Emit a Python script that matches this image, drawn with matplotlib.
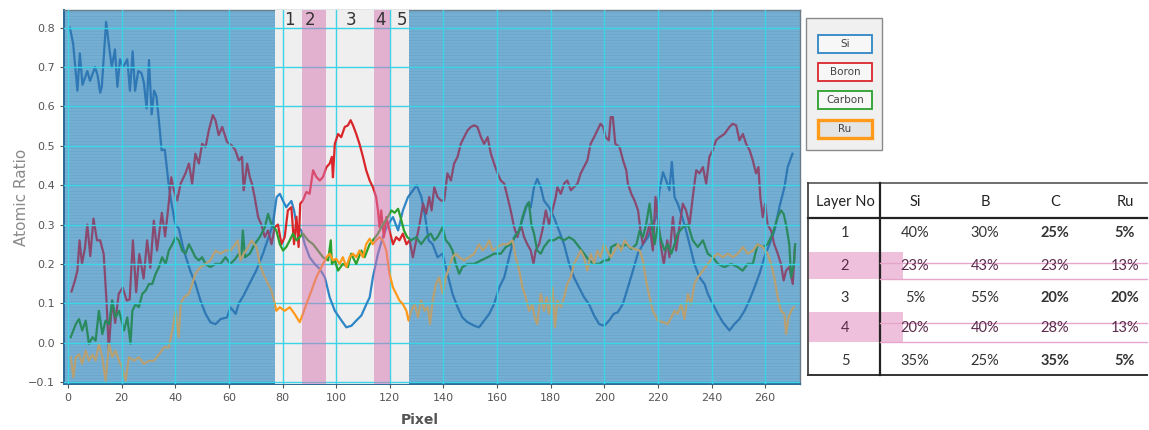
import numpy as np
import matplotlib
matplotlib.use("Agg")
from matplotlib import pyplot as plt
from matplotlib.patches import Rectangle
from matplotlib.lines import Line2D

# ---- data ----
si_x = [0.7, 1.9, 3.5, 4.4, 5.4, 7.2, 8.2, 10.1, 11, 12, 12.6, 14.2, 15, 16.3, 17.5, 18.4, 19.4, 20.6, 22.1, 23.1,
        24.1, 25, 26.2, 27.4, 28.3, 29.3, 30.2, 31.2, 32.1, 33, 34, 34.9, 36.1, 37.4, 38.2, 40, 41.3, 43.2, 45.7, 47.5,
        49.4, 51.3, 53.1, 55, 56.9, 59.3, 60.6, 62.5, 63.7, 65.5, 67.7, 70.2, 72.7, 76.4, 77.8, 79, 80.2, 81.4, 83.3,
        84.3, 85.2, 87, 88.3, 90.1, 92, 93.9, 95.8, 97.6, 99.5, 102, 103.8, 105.7, 107.5, 109.4, 111.3, 112.5, 113.7,
        115.6, 117.4, 119.3, 121.2, 123.1, 124.9, 126.8, 128.7, 130, 131.8, 133.2, 134.5, 136, 137.8, 139.7, 141.5,
        143.4, 145.3, 147.1, 149, 151.5, 153.3, 155.2, 157.1, 158.9, 160.8, 162.7, 164.5, 166.4, 168.3, 170.1, 171.3,
        172.6, 173.8, 175, 176.3, 177.5, 179.4, 181.2, 183.1, 185, 186.9, 188.7, 190.6, 192.5, 194.3, 196.2, 198.1,
        200, 201.8, 203.5, 205, 206.9, 208.8, 210.7, 212.5, 214.4, 216.3, 218.1, 219.4, 220.6, 221.9, 223.1, 224.3,
        225.2, 226.2, 227.4, 228.7, 229.9, 231.8, 233.6, 235.5, 237.4, 238.6, 240.5, 242.4, 244.2, 246.7, 248.5,
        250.4, 252.3, 254.1, 256, 257.9, 259.7, 261.6, 263.5, 265.3, 267.2, 268.4, 270.2]
si_y = [0.80, 0.76, 0.64, 0.735, 0.655, 0.69, 0.665, 0.70, 0.68, 0.635, 0.65, 0.815, 0.77, 0.70, 0.745, 0.65, 0.72,
        0.70, 0.72, 0.64, 0.74, 0.64, 0.69, 0.685, 0.66, 0.595, 0.718, 0.58, 0.64, 0.625, 0.557, 0.489, 0.49, 0.41,
        0.37, 0.30, 0.29, 0.234, 0.18, 0.15, 0.107, 0.073, 0.052, 0.047, 0.06, 0.064, 0.09, 0.073, 0.10, 0.12, 0.15,
        0.183, 0.226, 0.30, 0.37, 0.378, 0.36, 0.344, 0.36, 0.336, 0.30, 0.285, 0.25, 0.217, 0.20, 0.187, 0.166,
        0.115, 0.081, 0.056, 0.039, 0.043, 0.056, 0.069, 0.098, 0.115, 0.166, 0.226, 0.268, 0.30, 0.319, 0.285,
        0.336, 0.37, 0.387, 0.40, 0.37, 0.32, 0.26, 0.25, 0.217, 0.226, 0.175, 0.124, 0.09, 0.064, 0.052, 0.043,
        0.039, 0.056, 0.073, 0.098, 0.14, 0.166, 0.217, 0.268, 0.285, 0.327, 0.353, 0.344, 0.395, 0.416, 0.395,
        0.361, 0.344, 0.319, 0.285, 0.25, 0.20, 0.166, 0.14, 0.115, 0.098, 0.069, 0.047, 0.043, 0.056, 0.073, 0.077,
        0.098, 0.14, 0.183, 0.226, 0.25, 0.268, 0.30, 0.319, 0.387, 0.433, 0.412, 0.387, 0.459, 0.37, 0.353, 0.327,
        0.30, 0.25, 0.20, 0.166, 0.149, 0.124, 0.098, 0.073, 0.052, 0.031, 0.047, 0.06, 0.081, 0.107, 0.14, 0.175,
        0.217, 0.25, 0.285, 0.344, 0.395, 0.446, 0.48]

boron_x = [1.3, 2.6, 3.5, 4.3, 5.2, 6.3, 7.2, 8.3, 9.5, 10.8, 12, 13.3, 14.4, 15.2, 16.4, 17.6, 18.9, 20.4, 21.9, 23,
           24.2, 25.4, 26.6, 28.2, 29.5, 30.7, 32, 33.2, 35, 36.2, 37.5, 38.5, 39.5, 40.7, 42, 43.8, 45.1, 46.3, 47.5,
           48.8, 50, 51.3, 52.5, 54, 55, 56.2, 57.5, 59.3, 61.2, 62.4, 63.7, 64.9, 65.5, 66.8, 67.8, 68.6, 69.6, 70.9,
           72.1, 73.4, 74.6, 75.9, 77.1, 78.3, 79.6, 80.8, 82, 83.3, 84.3, 85.2, 86, 86.6, 87.6, 88.9, 90.1, 91.4,
           92.6, 93.9, 95.1, 96.4, 97.6, 98.4, 98.8, 99.5, 100.7, 101.9, 103.2, 104.4, 105.4, 106.3, 107.5, 108.7,
           110, 111.2, 112.5, 113.7, 114.9, 115.6, 116.2, 116.8, 117.8, 118.7, 119.9, 121.2, 122.4, 123.6, 124.9,
           126.2, 127.4, 128.6, 129.9, 131.1, 132.4, 133.6, 134.7, 135.6, 136.6, 137.8, 139.1, 140.3, 141.5, 142.8,
           144, 145.3, 146.5, 147.7, 149, 150.2, 151.5, 152.7, 154, 155.2, 156.5, 157.7, 158.9, 160.2, 161.4, 162.7,
           163.9, 165.1, 166.4, 167.6, 168.9, 170.1, 171.3, 172.6, 173.6, 174.4, 175.7, 176.9, 178.2, 179.4, 180.7,
           181.9, 182.5, 183.8, 185, 186.2, 187.5, 188.7, 190, 191.2, 192.4, 193.7, 194.9, 196.2, 197.4, 198.6,
           199.6, 200.5, 201.7, 202.4, 203.2, 204.1, 205.7, 207, 208.2, 208.8, 210.1, 211.3, 212.6, 213.5, 214.4,
           215.6, 216.9, 218.1, 219.1, 220, 221, 222.2, 223.5, 224.3, 225.6, 226.8, 228, 229.3, 230.5, 231.8, 233,
           234.3, 235.5, 236.8, 238, 239.2, 240.5, 241.7, 243, 244.8, 246.7, 247.9, 249.2, 250.4, 251.7, 252.9,
           254.2, 255.4, 256.6, 257.5, 258.2, 259.1, 260, 260.9, 262.2, 263.4, 264.7, 265.9, 266.9, 267.8, 269,
           270.3, 271.1]
boron_y = [0.13, 0.158, 0.183, 0.26, 0.20, 0.24, 0.30, 0.22, 0.315, 0.26, 0.26, 0.225, 0.10, -0.02, 0.107, 0.05,
           0.124, 0.14, 0.107, 0.11, 0.26, 0.128, 0.225, 0.163, 0.26, 0.19, 0.31, 0.234, 0.33, 0.27, 0.35, 0.42,
           0.387, 0.361, 0.404, 0.43, 0.455, 0.404, 0.48, 0.455, 0.505, 0.497, 0.539, 0.578, 0.565, 0.527, 0.548,
           0.51, 0.50, 0.489, 0.463, 0.472, 0.387, 0.455, 0.42, 0.404, 0.37, 0.319, 0.30, 0.268, 0.285, 0.25, 0.293,
           0.30, 0.25, 0.268, 0.336, 0.344, 0.25, 0.32, 0.243, 0.353, 0.361, 0.383, 0.378, 0.438, 0.421, 0.412,
           0.421, 0.446, 0.455, 0.472, 0.42, 0.505, 0.53, 0.522, 0.548, 0.552, 0.565, 0.552, 0.53, 0.505, 0.472,
           0.438, 0.412, 0.395, 0.37, 0.336, 0.293, 0.336, 0.268, 0.319, 0.285, 0.25, 0.268, 0.26, 0.277, 0.25,
           0.26, 0.217, 0.26, 0.30, 0.353, 0.327, 0.37, 0.336, 0.395, 0.37, 0.361, 0.361, 0.43, 0.412, 0.455, 0.472,
           0.505, 0.522, 0.539, 0.548, 0.552, 0.548, 0.522, 0.505, 0.522, 0.48, 0.455, 0.43, 0.412, 0.404, 0.37,
           0.336, 0.293, 0.268, 0.30, 0.268, 0.25, 0.234, 0.20, 0.234, 0.25, 0.285, 0.336, 0.30, 0.336, 0.37, 0.395,
           0.378, 0.404, 0.412, 0.387, 0.395, 0.404, 0.43, 0.446, 0.463, 0.505, 0.522, 0.539, 0.556, 0.548, 0.522,
           0.514, 0.573, 0.573, 0.505, 0.497, 0.463, 0.438, 0.404, 0.378, 0.361, 0.336, 0.285, 0.25, 0.268, 0.30,
           0.234, 0.37, 0.319, 0.25, 0.20, 0.26, 0.217, 0.319, 0.234, 0.293, 0.353, 0.336, 0.30, 0.37, 0.438, 0.43,
           0.446, 0.404, 0.472, 0.489, 0.514, 0.522, 0.53, 0.548, 0.556, 0.552, 0.514, 0.53, 0.505, 0.489, 0.463,
           0.43, 0.446, 0.37, 0.319, 0.353, 0.30, 0.285, 0.25, 0.226, 0.20, 0.158, 0.183, 0.192, 0.149, 0.243]

carbon_x = [1, 2.9, 4.1, 5.3, 6.6, 7.8, 9.1, 10.3, 11.5, 12.8, 14, 15.3, 16.5, 17.7, 19, 20.9, 22.1, 23.3, 24, 25.2,
            26.4, 27.7, 28.9, 30.2, 31.4, 32.7, 33.9, 35.1, 36.4, 37.6, 38.9, 40.1, 41.3, 42.6, 43.8, 45.1, 46.3,
            47.5, 48.8, 50, 51.3, 53.1, 55, 56.9, 58.7, 60.6, 62.4, 63.7, 64.6, 65.2, 66, 67.8, 69.6, 71.5, 73.4,
            74.6, 75.9, 77.7, 79, 80.2, 81.4, 82.7, 83.9, 85.2, 86.4, 87.6, 89.5, 91.4, 93.2, 95.1, 97, 98, 98.4,
            99.5, 100.7, 102.5, 104.4, 105.6, 107.5, 109.4, 110.6, 112.5, 113.7, 115.6, 117.4, 119.3, 120.6, 121.8,
            123.1, 124, 125.3, 126.5, 128, 129.9, 131.7, 133.6, 135.3, 136.6, 137.8, 139.7, 140.9, 142.2, 143.4,
            144.6, 145.9, 147.1, 149, 151.5, 154, 156.5, 158.9, 161.4, 163.3, 165.1, 166.6, 168.3, 169.5, 170.7,
            171.9, 172.8, 173.8, 175, 176.3, 177.5, 179.4, 181.2, 183.1, 185, 186.9, 188.7, 190.6, 192.5, 194.3,
            196.2, 198.1, 200, 201.8, 202.6, 204.5, 206.3, 208.2, 210.1, 212, 213.2, 214.4, 215.6, 216.9, 217.8,
            218.8, 220, 221.2, 222.5, 223.7, 225, 226.2, 227.4, 229.3, 231.2, 233, 234.9, 236.8, 238.6, 240.5, 242.4,
            244.8, 247.3, 249.8, 251.6, 253.5, 255.4, 257.2, 259.1, 260.9, 262.8, 264.7, 265.9, 266.9, 267.8, 269,
            269.7, 270.7, 271.2]
carbon_y = [0.014, 0.047, 0.06, 0.031, 0.056, -0.003, 0.014, 0.005, 0.081, 0.022, 0.056, 0.047, 0.107, 0.064, 0.081,
            0.031, 0.064, -0.003, 0.081, 0.098, 0.09, 0.124, 0.132, 0.149, 0.149, 0.175, 0.192, 0.217, 0.20, 0.234,
            0.25, 0.268, 0.26, 0.234, 0.226, 0.25, 0.234, 0.217, 0.209, 0.217, 0.20, 0.192, 0.20, 0.20, 0.217, 0.20,
            0.213, 0.226, 0.213, 0.285, 0.217, 0.226, 0.25, 0.268, 0.293, 0.327, 0.30, 0.285, 0.25, 0.234, 0.243,
            0.26, 0.277, 0.26, 0.268, 0.277, 0.26, 0.25, 0.234, 0.217, 0.209, 0.26, 0.20, 0.209, 0.183, 0.20, 0.192,
            0.226, 0.20, 0.234, 0.217, 0.25, 0.26, 0.277, 0.30, 0.319, 0.336, 0.33, 0.34, 0.319, 0.285, 0.268, 0.26,
            0.268, 0.25, 0.268, 0.277, 0.26, 0.268, 0.293, 0.26, 0.25, 0.234, 0.20, 0.175, 0.192, 0.20, 0.20, 0.209,
            0.217, 0.226, 0.226, 0.243, 0.25, 0.268, 0.285, 0.319, 0.344, 0.357, 0.30, 0.277, 0.234, 0.226, 0.243,
            0.26, 0.26, 0.268, 0.26, 0.268, 0.26, 0.243, 0.226, 0.209, 0.20, 0.20, 0.209, 0.21, 0.243, 0.25, 0.243,
            0.25, 0.238, 0.25, 0.285, 0.268, 0.30, 0.353, 0.30, 0.25, 0.30, 0.26, 0.234, 0.25, 0.226, 0.25, 0.277,
            0.293, 0.30, 0.26, 0.243, 0.26, 0.226, 0.217, 0.20, 0.192, 0.20, 0.192, 0.183, 0.20, 0.20, 0.25, 0.243,
            0.25, 0.277, 0.319, 0.336, 0.327, 0.30, 0.25, 0.166, 0.20, 0.25]

ru_x = [1, 2, 2.9, 4.1, 5.3, 6.6, 7.8, 9.1, 10.3, 11.5, 12.8, 14, 15.3, 16.5, 17.7, 19, 20.2, 21.5, 22.7, 24.6, 26.4,
        28.3, 30.2, 32, 33.9, 35.8, 37.6, 38.9, 40.1, 41.3, 42, 43.2, 45.1, 46.3, 47.5, 49.4, 51.3, 53.1, 55, 56.9,
        58.7, 60.6, 62.4, 63.3, 64.3, 65.5, 67, 68.4, 70.3, 71.5, 72.8, 74, 75.9, 77.7, 79, 80.8, 82.7, 84.5, 86.4,
        87.6, 88.9, 90.8, 92.6, 94.5, 96.4, 97.6, 98.8, 100, 101.3, 102.5, 103.8, 105, 106.3, 107.5, 108.7, 110,
        111.2, 112.5, 113.7, 114.9, 116.2, 117.4, 118.7, 119.9, 121.2, 122.4, 123.6, 124.9, 126.2, 127, 128, 129.3,
        130.5, 131.7, 133, 134.2, 135, 136, 137.2, 138.4, 139.7, 140.9, 142.2, 143.4, 144.6, 145.9, 147.7, 149.6,
        151.5, 153.3, 154.6, 155.8, 157.1, 158.3, 160.2, 162, 163.9, 165.8, 167, 168.3, 169.5, 170.7, 172, 173.2,
        174, 175, 176.3, 177.5, 178.5, 179.4, 180.7, 181.6, 182.5, 183.8, 185, 186.2, 187.5, 188.7, 190, 191.2,
        192.4, 193.7, 194.9, 196.2, 197.4, 198.6, 199.9, 201.1, 202.4, 203.9, 205.1, 206.3, 207.6, 209.4, 211.3,
        213.2, 214.4, 215.6, 216.9, 218.1, 220, 221.9, 223.7, 225, 226.2, 227.4, 228.7, 229.9, 231.2, 232.4,
        233.6, 234.9, 236.8, 238.6, 240.5, 242.4, 244.2, 246.1, 248, 249.8, 251.7, 253.5, 255.4, 257.2, 259.1,
        260.9, 262.2, 263.4, 264.7, 265.9, 267.2, 267.8, 268.7, 269.7, 270.7]
ru_y = [-0.037, -0.088, -0.037, -0.03, -0.054, -0.02, -0.046, -0.03, -0.046, -0.003, -0.037, -0.097, -0.003, -0.037,
        -0.02, -0.046, -0.063, -0.097, -0.037, -0.046, -0.037, -0.054, -0.046, -0.046, -0.03, -0.012, -0.012, 0.031,
        0.081, 0.014, 0.098, 0.115, 0.124, 0.149, 0.175, 0.192, 0.20, 0.209, 0.234, 0.226, 0.234, 0.234, 0.25, 0.26,
        0.209, 0.226, 0.24, 0.26, 0.243, 0.20, 0.175, 0.158, 0.132, 0.081, 0.09, 0.081, 0.09, 0.073, 0.052, 0.073,
        0.098, 0.132, 0.166, 0.192, 0.217, 0.226, 0.209, 0.213, 0.20, 0.217, 0.192, 0.217, 0.226, 0.217, 0.234,
        0.217, 0.25, 0.264, 0.25, 0.26, 0.268, 0.26, 0.234, 0.175, 0.14, 0.124, 0.107, 0.098, 0.081, 0.056, 0.081,
        0.098, 0.064, 0.107, 0.081, 0.09, 0.047, 0.107, 0.149, 0.166, 0.124, 0.166, 0.192, 0.217, 0.226, 0.217,
        0.209, 0.217, 0.226, 0.25, 0.234, 0.243, 0.26, 0.234, 0.243, 0.25, 0.25, 0.26, 0.217, 0.183, 0.14, 0.115,
        0.081, 0.098, 0.064, 0.047, 0.124, 0.081, 0.115, 0.073, 0.14, 0.039, 0.107, 0.09, 0.115, 0.149, 0.166, 0.20,
        0.217, 0.234, 0.217, 0.183, 0.226, 0.20, 0.234, 0.217, 0.25, 0.234, 0.217, 0.234, 0.25, 0.234, 0.26, 0.243,
        0.238, 0.234, 0.209, 0.158, 0.115, 0.081, 0.056, 0.052, 0.047, 0.064, 0.081, 0.073, 0.098, 0.06, 0.124,
        0.098, 0.149, 0.166, 0.183, 0.20, 0.217, 0.226, 0.217, 0.226, 0.217, 0.226, 0.243, 0.226, 0.234, 0.25,
        0.243, 0.226, 0.20, 0.166, 0.115, 0.081, 0.073, 0.022, 0.064, 0.081, 0.09]

series_names = ['Si', 'Boron', 'Carbon', 'Ru']
# colour inside the white measurement band / colour seen through the blue overlay
true_colors = ['#2f86c6', '#d9262b', '#2ca02c', '#ff9a1a']
tint_colors = ['#2f78b5', '#8a4a70', '#2a8a5e', '#b7a174']

band = (77.1, 127.0)
pink_bands = [(87.3, 96.3), (114.3, 120.0)]
layer_labels = ['1', '2', '3', '4', '5']
layer_label_x = [82.7, 90.1, 105.4, 116.6, 124.4]

table_header = ['Layer No', 'Si', 'B', 'C', 'Ru']
table_rows = [['1', '40%', '30%', '25%', '5%'],
              ['2', '23%', '43%', '23%', '13%'],
              ['3', '5%', '55%', '20%', '20%'],
              ['4', '20%', '40%', '28%', '13%'],
              ['5', '35%', '25%', '35%', '5%']]

W, H = 1149, 430
fig = plt.figure(figsize=(W / 100, H / 100), dpi=100)


def fx(px):
    return px / W


def fy(py):
    return 1 - py / H


ax = fig.add_axes([fx(64), fy(384), fx(800) - fx(64), fy(10) - fy(384)])
ax.set_facecolor('#74aed2')
ax.set_xlim(-1.5, 273)
ax.set_ylim(-0.105, 0.845)

# scan-line texture of the blue background
for yy in np.arange(-0.105, 0.845, 0.0078):
    ax.axhline(yy, color='#5f98c0', lw=0.6, alpha=0.35, zorder=0.6)

series = [(si_x, si_y), (boron_x, boron_y), (carbon_x, carbon_y), (ru_x, ru_y)]
for (xs, ys), c in zip(series, tint_colors):
    ax.plot(xs, ys, color=c, lw=1.6, zorder=2)

ax.axvspan(band[0], band[1], color='#efefef', zorder=3, lw=0)

# grid
for gx in range(0, 261, 20):
    ax.axvline(gx, color='#3bd3e6', lw=1.0, zorder=3.5)
for gy in np.arange(-0.1, 0.81, 0.1):
    ax.axhline(gy, color='#3bd3e6', lw=1.0, zorder=3.5)

clip = Rectangle((band[0], -1), band[1] - band[0], 3, transform=ax.transData)
for (xs, ys), c in zip(series, true_colors):
    ln, = ax.plot(xs, ys, color=c, lw=1.6, zorder=4)
    ln.set_clip_path(clip)

for a, b in pink_bands:
    ax.axvspan(a, b, color='#d874b2', alpha=0.5, zorder=5, lw=0)

for lab, lx in zip(layer_labels, layer_label_x):
    ax.text(lx, 0.82, lab, ha='center', va='center', fontsize=12, color='#333333', zorder=6)

ax.set_xticks(range(0, 261, 20))
ax.set_yticks(np.round(np.arange(-0.1, 0.81, 0.1), 1))
ax.tick_params(labelsize=8, colors='#555555', length=3, width=0.8)
for s in ['left', 'bottom']:
    ax.spines[s].set_color('#2b6a96')
    ax.spines[s].set_linewidth(1.4)
for s in ['top', 'right']:
    ax.spines[s].set_color('#6b7b88')
    ax.spines[s].set_linewidth(1.0)

fig.text(fx(22), fy(197), 'Atomic Ratio', rotation=90, ha='center', va='center', fontsize=11, color='#8a8a8a')
fig.text(fx(420), fy(420), 'Pixel', ha='center', va='center', fontsize=10, color='#555555', weight='bold')

# ---- legend panel ----
fig.patches.append(Rectangle((fx(806), fy(150)), fx(882) - fx(806), fy(18) - fy(150), transform=fig.transFigure,
                             facecolor='#f0f0f0', edgecolor='#8a8a8a', lw=1.0))
leg_y = [44, 72, 100, 129]
for name, c, py in zip(series_names, true_colors, leg_y):
    ru = name == 'Ru'
    fig.patches.append(Rectangle((fx(818), fy(py + 9)), fx(872) - fx(818), fy(py - 9) - fy(py + 9),
                                 transform=fig.transFigure, facecolor='#e4e4e4' if ru else '#f7f7f7',
                                 edgecolor=c, lw=2.4 if ru else 1.3))
    fig.text(fx(845), fy(py), name, ha='center', va='center', fontsize=7.5, color='#444444')

# ---- composition table ----
tx0, tx1 = 808, 1147
fig.add_artist(Line2D([fx(tx0), fx(tx1)], [fy(183), fy(183)], color='#555555', lw=1.2))
fig.add_artist(Line2D([fx(tx0), fx(tx1)], [fy(218), fy(218)], color='#222222', lw=1.6))
fig.add_artist(Line2D([fx(tx0), fx(tx1)], [fy(375), fy(375)], color='#333333', lw=1.4))
fig.add_artist(Line2D([fx(tx0), fx(tx0)], [fy(183), fy(375)], color='#333333', lw=1.2))
fig.add_artist(Line2D([fx(880), fx(880)], [fy(183), fy(375)], color='#222222', lw=1.6))
for top, bot in [(252, 279), (312, 342)]:
    fig.patches.append(Rectangle((fx(tx0 + 1), fy(bot)), fx(903) - fx(tx0 + 1), fy(top) - fy(bot),
                                 transform=fig.transFigure, facecolor='#efc0dc', edgecolor='none', zorder=0))
    for py in (top + 11, bot):
        fig.add_artist(Line2D([fx(880), fx(tx1)], [fy(py), fy(py)], color='#e6a6cc', lw=1.0))

col_x = [845, 915, 985, 1055, 1125]
row_y = [233, 266, 298, 328, 361]
tfont = ['Lato', 'DejaVu Sans']
for cx, h in zip(col_x, table_header):
    fig.text(fx(cx), fy(202), h, ha='center', va='center', fontsize=10.5, color='#222222', family=tfont)
for ri, (row, py) in enumerate(zip(table_rows, row_y)):
    pink = ri in (1, 3)
    for ci, (cx, val) in enumerate(zip(col_x, row)):
        bold = (not pink) and ci >= 3
        fig.text(fx(cx), fy(py), val, ha='center', va='center', fontsize=10.5, family=tfont,
                 color='#5a2a4c' if pink else '#333333', weight='bold' if bold else 'normal')

fig.savefig('out.png', dpi=100)
